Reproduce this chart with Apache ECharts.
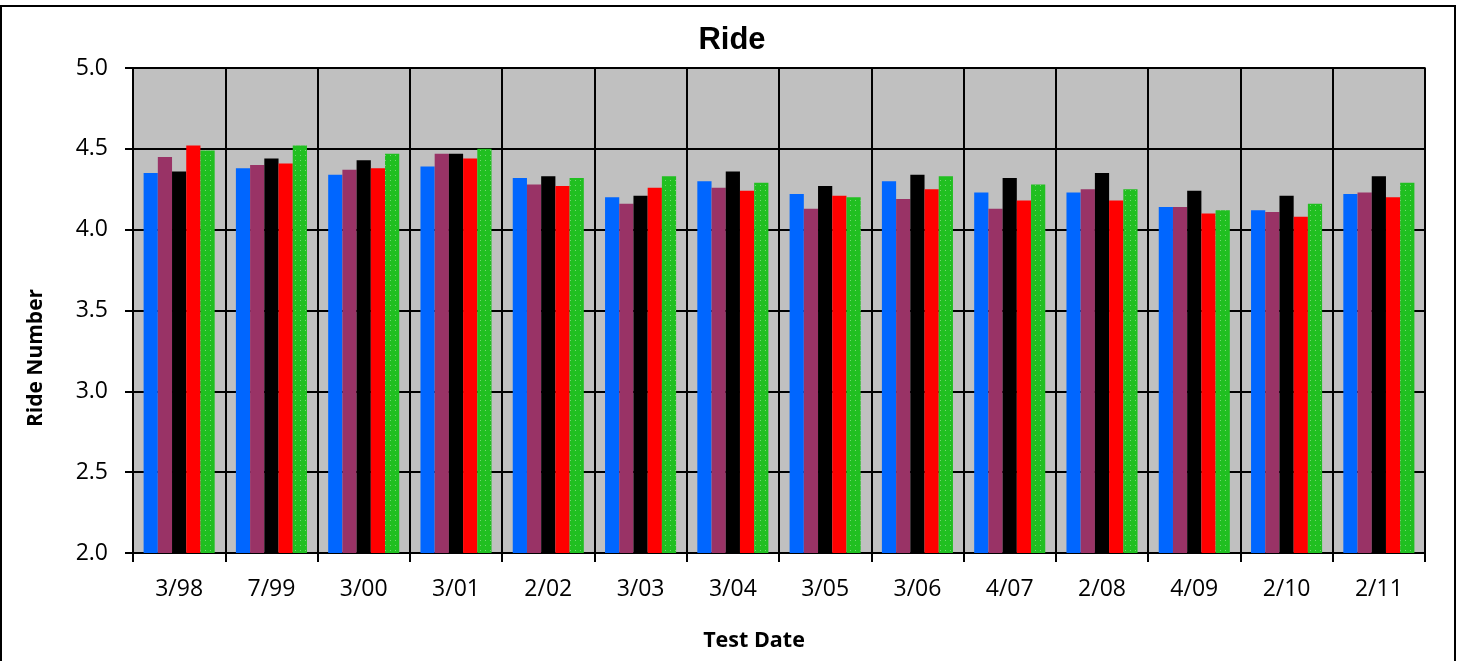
<!DOCTYPE html>
<html><head><meta charset="utf-8">
<script src="https://cdn.jsdelivr.net/npm/echarts@6/dist/echarts.min.js"></script>
<style>html,body{margin:0;padding:0;background:#fff}#c{width:1463px;height:661px}</style>
</head><body><div id="c"></div>
<script>
const categories = ['3/98','7/99','3/00','3/01','2/02','3/03','3/04','3/05','3/06','4/07','2/08','4/09','2/10','2/11'];
const seriesA = [4.35,4.38,4.34,4.39,4.32,4.20,4.30,4.22,4.30,4.23,4.23,4.14,4.12,4.22];
const seriesB = [4.45,4.40,4.37,4.47,4.28,4.16,4.26,4.13,4.19,4.13,4.25,4.14,4.11,4.23];
const seriesC = [4.36,4.44,4.43,4.47,4.33,4.21,4.36,4.27,4.34,4.32,4.35,4.24,4.21,4.33];
const seriesD = [4.52,4.41,4.38,4.44,4.27,4.26,4.24,4.21,4.25,4.18,4.18,4.10,4.08,4.20];
const seriesE = [4.49,4.52,4.47,4.50,4.32,4.33,4.29,4.20,4.33,4.28,4.25,4.12,4.16,4.29];
const yTicks = ['2.0','2.5','3.0','3.5','4.0','4.5','5.0'];
const colors = ['#0066FF','#993366','#000000','#FF0000','#20BF20'];

const chart = echarts.init(document.getElementById('c'));
const font = 'Open Sans';
const mk = (name, data, i) => {
  const s = { name, type: 'bar', data, barGap: '0%', barCategoryGap: '23%',
    itemStyle: { color: colors[i] } };
  if (i === 4) s.itemStyle.decal = { symbol: 'rect', symbolSize: 1, dashArrayX: [[1, 4]], dashArrayY: [1, 4], color: 'rgba(150,225,150,0.7)' };
  return s;
};
chart.setOption({
  animation: false,
  title: { text: 'Ride', left: 727, top: 20, textAlign: 'center',
    textStyle: { fontFamily: 'Liberation Sans', fontWeight: 'bold', fontSize: 31, color: '#000' } },
  grid: { left: 133, right: 38, top: 68, bottom: 108, show: true, backgroundColor: '#C0C0C0', borderColor: '#000', borderWidth: 1.5 },
  graphic: [{ type: 'rect', shape: { x: 1, y: 6, width: 1454, height: 670 }, style: { fill: 'none', stroke: '#000', lineWidth: 2 }, silent: true }],
  xAxis: {
    type: 'category', data: categories,
    name: 'Test Date', nameLocation: 'middle', nameGap: 77,
    nameTextStyle: { fontFamily: font, fontWeight: 'bold', fontSize: 21.5, color: '#000', padding: [0, 50, 0, 0] },
    axisLine: { lineStyle: { color: '#000', width: 2 } },
    axisTick: { show: true, length: 9, lineStyle: { color: '#000', width: 2 }, alignWithLabel: false },
    axisLabel: { fontFamily: font, fontSize: 23, color: '#000', margin: 25 },
    splitLine: { show: true, interval: 0, lineStyle: { color: '#000', width: 2 } }
  },
  yAxis: {
    type: 'value', min: 2, max: 5, interval: 0.5,
    name: 'Ride Number', nameLocation: 'middle', nameGap: 86, nameRotate: 90,
    nameTextStyle: { fontFamily: font, fontWeight: 'bold', fontSize: 21, color: '#000', padding: [0, 0, 0, -95] },
    axisLine: { show: true, lineStyle: { color: '#000', width: 2 } },
    axisTick: { show: true, length: 8, lineStyle: { color: '#000', width: 2 } },
    axisLabel: { fontFamily: font, fontSize: 23, color: '#000', margin: 25,
      formatter: v => yTicks[Math.round((v - 2) / 0.5)] },
    splitLine: { show: true, lineStyle: { color: '#000', width: 2 } }
  },
  series: [mk('A', seriesA, 0), mk('B', seriesB, 1), mk('C', seriesC, 2), mk('D', seriesD, 3), mk('E', seriesE, 4)]
});
</script></body></html>
